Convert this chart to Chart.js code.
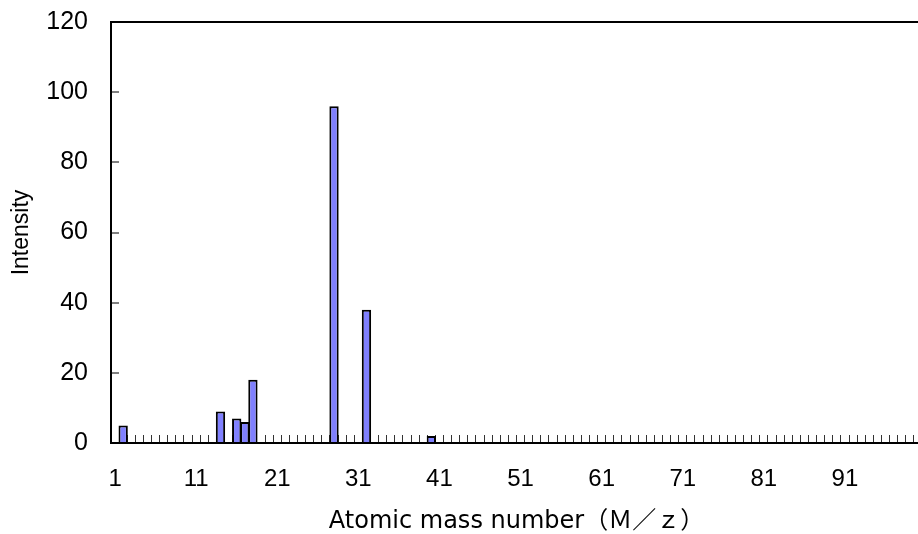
<!DOCTYPE html>
<html lang="en">

<head>
    <meta charset="UTF-8">
    <title>Mass Spectrum</title>
    <script src="https://cdn.jsdelivr.net/npm/chart.js"></script>
    <style>
        body {
            margin: 0;
            padding: 0;
            background-color: #ffffff;
            overflow: hidden;
        }

        .chart-container {
            position: relative;
            width: 922px;
            height: 534px;
        }
    </style>
</head>

<body>
    <div class="chart-container">
        <canvas id="spectrumChart"></canvas>
    </div>

    <script>
        // peaks
        var massNumbers = [2, 14, 16, 17, 18, 28, 32, 40];
        var intensities = [5, 9, 7, 6, 18, 96, 38, 2];

        // axis: M/z from 1 to 100, a label every 10
        var firstMass = 1;
        var lastMass = 100;
        var labelEvery = 10;
        var yTicks = [0, 20, 40, 60, 80, 100, 120];

        var categories = [];
        for (var m = firstMass; m <= lastMass; m++) {
            categories.push(String(m));
        }
        var values = categories.map(function (c) {
            var idx = massNumbers.indexOf(Number(c));
            return idx >= 0 ? intensities[idx] : null;
        });

        // drop the automatic edge padding so the plot sits where the layout padding says
        function noEdgePadding(scale) {
            scale.paddingTop = 0;
            scale.paddingBottom = 0;
            scale.paddingLeft = 0;
            scale.paddingRight = 0;
        }

        var ctx = document.getElementById('spectrumChart').getContext('2d');
        var spectrumChart = new Chart(ctx, {
            type: 'bar',
            data: {
                labels: categories,
                datasets: [{
                    label: 'Intensity',
                    data: values,
                    backgroundColor: '#8080ff',
                    borderColor: '#000000',
                    borderWidth: 2,
                    barPercentage: 1.15,
                    categoryPercentage: 1
                }]
            },
            options: {
                responsive: true,
                maintainAspectRatio: false,
                animation: false,
                layout: {
                    padding: { top: 22, right: 0, bottom: 0, left: 0 }
                },
                plugins: {
                    legend: { display: false },
                    tooltip: { enabled: false }
                },
                scales: {
                    x: {
                        offset: true,
                        border: { display: true, color: '#000000', width: 2 },
                        grid: {
                            offset: true,
                            drawOnChartArea: false,
                            tickLength: -8,
                            tickColor: '#333333',
                            tickWidth: 1
                        },
                        ticks: {
                            autoSkip: false,
                            maxRotation: 0,
                            padding: 30,
                            color: '#000000',
                            font: { family: 'Liberation Sans', size: 24 },
                            callback: function (val, i) {
                                return i % labelEvery === 0 ? categories[i] : '';
                            }
                        },
                        title: {
                            display: true,
                            text: 'Atomic mass number（Ｍ／ｚ）',
                            color: '#000000',
                            font: { family: "'DejaVu Sans', 'Noto Sans CJK JP'", size: 24, lineHeight: 1 },
                            padding: { top: 0, bottom: 0 }
                        },
                        afterFit: function (scale) {
                            scale.height = 91;
                            noEdgePadding(scale);
                        }
                    },
                    y: {
                        min: yTicks[0],
                        max: yTicks[yTicks.length - 1],
                        border: { display: true, color: '#000000', width: 2 },
                        grid: {
                            drawOnChartArea: true,
                            color: function (c) {
                                return c.tick && c.tick.value === yTicks[yTicks.length - 1] ? '#000000' : 'rgba(0,0,0,0)';
                            },
                            lineWidth: 2,
                            tickLength: -8,
                            tickColor: '#000000',
                            tickWidth: 1
                        },
                        ticks: {
                            stepSize: yTicks[1] - yTicks[0],
                            padding: 31,
                            color: '#000000',
                            font: { family: 'Liberation Sans', size: 25 }
                        },
                        title: {
                            display: true,
                            text: 'Intensity',
                            color: '#000000',
                            font: { family: 'Liberation Sans', size: 23, lineHeight: 1.2 },
                            padding: { top: 8, bottom: 0 }
                        },
                        afterFit: function (scale) {
                            scale.width = 111;
                            noEdgePadding(scale);
                        }
                    }
                }
            }
        });
    </script>
</body>

</html>
